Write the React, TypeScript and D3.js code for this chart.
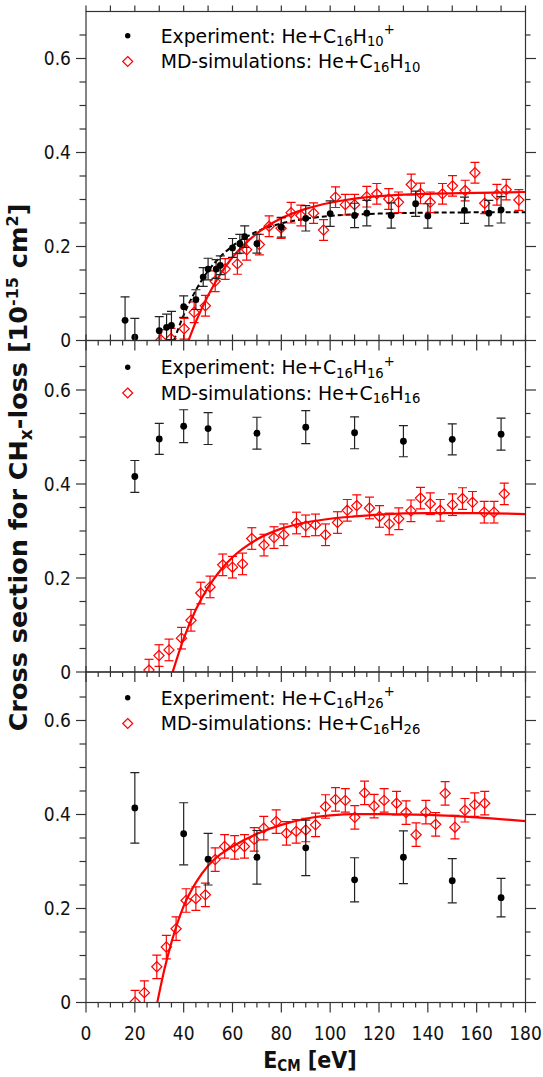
import React from 'react';
import * as d3 from 'd3';

// tick labels
const xTicks = [0, 20, 40, 60, 80, 100, 120, 140, 160, 180];
const yTicks = [0, 0.2, 0.4, 0.6];

// panel 1: He + C16H10
const exp1X = [16, 20, 30, 33, 35, 40, 45, 48, 50, 53.3, 55, 60, 63, 65, 70, 80, 90, 100, 110, 115, 125, 135, 140, 155, 165, 170];
const exp1Y = [0.043, 0.007, 0.021, 0.028, 0.032, 0.072, 0.087, 0.135, 0.152, 0.152, 0.16, 0.197, 0.206, 0.221, 0.206, 0.241, 0.26, 0.27, 0.266, 0.271, 0.266, 0.291, 0.265, 0.277, 0.271, 0.278];
const exp1Err = [0.05, 0.04, 0.03, 0.028, 0.03, 0.023, 0.021, 0.02, 0.023, 0.02, 0.02, 0.02, 0.02, 0.023, 0.02, 0.021, 0.027, 0.027, 0.026, 0.027, 0.027, 0.027, 0.026, 0.028, 0.027, 0.028];
const md1X = [30.7, 34.8, 40.2, 44.3, 48.9, 52.9, 57, 62, 65.8, 71, 75, 79.9, 84, 88, 93.2, 97.3, 102.2, 106.2, 110, 115, 119.1, 124, 128, 133.2, 137, 141, 146, 150.1, 155.3, 159.3, 163.3, 168.3, 172.1, 177.3];
const md1Y = [0.001, 0.004, 0.025, 0.06, 0.074, 0.126, 0.152, 0.163, 0.193, 0.204, 0.243, 0.239, 0.272, 0.266, 0.271, 0.235, 0.305, 0.289, 0.289, 0.306, 0.312, 0.301, 0.294, 0.332, 0.313, 0.294, 0.312, 0.329, 0.319, 0.357, 0.292, 0.31, 0.321, 0.299];
const md1Err = 0.022;
const fit1RedX = [42, 45, 50, 55, 60, 65, 70, 80, 90, 100, 110, 120, 140, 160, 180];
const fit1RedY = [0, 0.04, 0.096, 0.141, 0.177, 0.205, 0.228, 0.26, 0.28, 0.293, 0.302, 0.307, 0.312, 0.314, 0.316];
const fit1BlackX = [36, 40, 45, 50, 55, 60, 70, 80, 90, 100, 120, 140, 180];
const fit1BlackY = [0, 0.054, 0.107, 0.148, 0.178, 0.201, 0.232, 0.249, 0.259, 0.265, 0.27, 0.272, 0.273];

// panel 2: He + C16H16
const exp2X = [20, 30, 40, 50, 70, 90, 110, 130, 150, 170];
const exp2Y = [0.416, 0.496, 0.523, 0.518, 0.508, 0.521, 0.509, 0.491, 0.495, 0.506];
const exp2Err = [0.034, 0.033, 0.035, 0.034, 0.034, 0.035, 0.034, 0.033, 0.033, 0.034];
const md2X = [25.8, 29.9, 34, 39.1, 43, 47, 50.8, 56, 60, 64.1, 67.9, 72.9, 77, 81, 86.2, 90, 94, 98.1, 103, 107, 110.9, 116.1, 120.2, 124.2, 128.1, 133.1, 137, 141, 145.1, 150.1, 154.2, 158.3, 163.1, 167.1, 171.3];
const md2Y = [0.004, 0.035, 0.047, 0.072, 0.11, 0.168, 0.181, 0.228, 0.223, 0.23, 0.284, 0.27, 0.286, 0.292, 0.317, 0.311, 0.313, 0.292, 0.318, 0.344, 0.354, 0.349, 0.331, 0.315, 0.326, 0.343, 0.37, 0.358, 0.344, 0.356, 0.369, 0.361, 0.34, 0.34, 0.379];
const md2Err = 0.023;
const fit2RedX = [35.5, 40, 45, 50, 55, 60, 70, 80, 90, 100, 110, 120, 140, 160, 180];
const fit2RedY = [0, 0.071, 0.133, 0.18, 0.216, 0.244, 0.282, 0.305, 0.318, 0.326, 0.331, 0.335, 0.338, 0.338, 0.336];

// panel 3: He + C16H26
const exp3X = [20, 40, 50, 70, 90, 110, 130, 150, 170];
const exp3Y = [0.414, 0.359, 0.305, 0.309, 0.329, 0.261, 0.309, 0.259, 0.223];
const exp3Err = [0.075, 0.066, 0.055, 0.057, 0.059, 0.047, 0.056, 0.047, 0.041];
const md3X = [20.1, 23.9, 29, 32.9, 36.9, 41, 45, 48.9, 52.9, 56.8, 60.9, 64.9, 68.9, 72.8, 77.9, 82.1, 86.1, 90, 94, 98.1, 102.2, 106.2, 110.1, 114.1, 118, 122.1, 127.2, 131.1, 135.2, 139.2, 143.2, 147.1, 151.1, 155.2, 159.2, 163.3];
const md3Y = [0.001, 0.021, 0.076, 0.118, 0.157, 0.217, 0.221, 0.229, 0.304, 0.332, 0.33, 0.332, 0.347, 0.371, 0.385, 0.36, 0.364, 0.367, 0.378, 0.417, 0.432, 0.43, 0.394, 0.446, 0.418, 0.43, 0.424, 0.404, 0.357, 0.405, 0.379, 0.445, 0.373, 0.409, 0.421, 0.424];
const md3Err = 0.025;
const fit3RedX = [29.2, 32, 35, 40, 45, 50, 55, 60, 70, 80, 90, 100, 110, 120, 140, 160, 180];
const fit3RedY = [0, 0.068, 0.128, 0.205, 0.255, 0.291, 0.315, 0.332, 0.359, 0.378, 0.391, 0.398, 0.401, 0.401, 0.399, 0.394, 0.386];

const molecules = [['16', '10'], ['16', '16'], ['16', '26']];

const RED = '#ff0000';
const AXIS = '#333';
const FONT = 'DejaVu Sans, Verdana, sans-serif';
const FONT_C = 'DejaVu Sans Condensed, DejaVu Sans, sans-serif';

const left = 86;
const right = 525.5;
const zeros = [340.5, 672, 1002.5];
const tops = [11.5, 340.5, 672];

const x = d3.scaleLinear().domain([0, 180]).range([left, right]);

const zip = (xs: number[], ys: number[]) => xs.map((v, i) => [v, ys[i]] as [number, number]);

const panels = [
  { exp: zip(exp1X, exp1Y), expErr: exp1Err, md: zip(md1X, md1Y), mdErr: md1Err, fitRed: zip(fit1RedX, fit1RedY), fitBlack: zip(fit1BlackX, fit1BlackY) },
  { exp: zip(exp2X, exp2Y), expErr: exp2Err, md: zip(md2X, md2Y), mdErr: md2Err, fitRed: zip(fit2RedX, fit2RedY), fitBlack: null },
  { exp: zip(exp3X, exp3Y), expErr: exp3Err, md: zip(md3X, md3Y), mdErr: md3Err, fitRed: zip(fit3RedX, fit3RedY), fitBlack: null },
];

const diamond = (cx: number, cy: number, r: number) =>
  `M${cx},${cy - r}L${cx + r},${cy}L${cx},${cy + r}L${cx - r},${cy}Z`;

function Panel({ i }: { i: number }) {
  const p = panels[i];
  const zero = zeros[i];
  const top = tops[i];
  const y = d3.scaleLinear().domain([0, 0.7]).range([zero, zero - 329]);
  const line = d3.line<[number, number]>().x(d => x(d[0])).y(d => y(d[1])).curve(d3.curveMonotoneX);
  const cap = 4.5;
  const minorY = d3.range(0, 0.7, 0.05).filter(v => y(v) >= top - 0.5);
  const minorX = d3.range(0, 181, 5);
  const topTicks = d3.range(0, 181, 10);
  const [sub1, sub2] = molecules[i];
  const leg1 = y(0.633);
  const leg2 = leg1 + 25.5;
  return (
    <g>
      <defs>
        <clipPath id={`clip${i}`}>
          <rect x={left} y={top} width={right - left} height={zero - top} />
        </clipPath>
      </defs>
      {/* y ticks, left and right, pointing out */}
      {minorY.map(v => {
        const major = yTicks.some(t => Math.abs(t - v) < 1e-6);
        return (
          <g key={`yt${v}`} stroke={AXIS} strokeWidth={1.2}>
            <line x1={left - (major ? 10 : 6.5)} x2={left} y1={y(v)} y2={y(v)} />
            <line x1={right} x2={right + (major ? 10.5 : 5)} y1={y(v)} y2={y(v)} />
          </g>
        );
      })}
      {/* x ticks: bottom edge pointing down, top edge pointing up */}
      {minorX.map(v => {
        const major = v % 20 === 0;
        return <line key={`xb${v}`} x1={x(v)} x2={x(v)} y1={zero} y2={zero + (major ? 10 : 5)} stroke={AXIS} strokeWidth={1.2} />;
      })}
      {topTicks.map(v => (
        <line key={`xt${v}`} x1={x(v)} x2={x(v)} y1={top} y2={top - 6} stroke={AXIS} strokeWidth={1.2} />
      ))}
      {yTicks.map(v => (
        <text key={`yl${v}`} x={71} y={y(v)} dy="0.36em" textAnchor="end" fontFamily={FONT_C} fontSize={19} fill="#111">
          {v === 0 ? '0' : v.toFixed(1)}
        </text>
      ))}
      <g clipPath={`url(#clip${i})`}>
        {p.fitBlack && (
          <path d={line(p.fitBlack) || ''} fill="none" stroke="#000" strokeWidth={2} strokeDasharray="5,3" />
        )}
        <path d={line(p.fitRed) || ''} fill="none" stroke={RED} strokeWidth={2.2} />
        {p.md.map(([a, b], k) => (
          <g key={`md${k}`} stroke={RED} strokeWidth={1.2} fill="none">
            <line x1={x(a)} x2={x(a)} y1={y(b - p.mdErr)} y2={y(b + p.mdErr)} />
            <line x1={x(a) - cap} x2={x(a) + cap} y1={y(b - p.mdErr)} y2={y(b - p.mdErr)} />
            <line x1={x(a) - cap} x2={x(a) + cap} y1={y(b + p.mdErr)} y2={y(b + p.mdErr)} />
            <path d={diamond(x(a), y(b), 5.1)} />
          </g>
        ))}
        {p.exp.map(([a, b], k) => {
          const e = p.expErr[k];
          return (
            <g key={`ex${k}`} stroke="#222" strokeWidth={1.2}>
              <line x1={x(a)} x2={x(a)} y1={y(b - e)} y2={y(b + e)} />
              <line x1={x(a) - cap} x2={x(a) + cap} y1={y(b - e)} y2={y(b - e)} />
              <line x1={x(a) - cap} x2={x(a) + cap} y1={y(b + e)} y2={y(b + e)} />
              <circle cx={x(a)} cy={y(b)} r={3.4} fill="#000" stroke="none" />
            </g>
          );
        })}
      </g>
      {/* frame */}
      <rect x={left} y={top} width={right - left} height={zero - top} fill="none" stroke={AXIS} strokeWidth={1.2} />
      {/* legend */}
      <circle cx={127.7} cy={leg1 - 7.3} r={2.7} fill="#000" />
      <path d={diamond(127.7, leg2 - 7, 5)} fill="none" stroke={RED} strokeWidth={1.2} />
      <text x={160.7} y={leg1} fontFamily={FONT} fontSize={18.8} fill="#000">
        Experiment: He+C
        <tspan fontSize={13.2} dy={3.5}>{sub1}</tspan>
        <tspan dy={-3.5}>H</tspan>
        <tspan fontSize={13.2} dy={3.5}>{sub2}</tspan>
        <tspan fontSize={13.2} dy={-12}>+</tspan>
      </text>
      <text x={160.7} y={leg2} fontFamily={FONT} fontSize={18.8} fill="#000">
        MD-simulations: He+C
        <tspan fontSize={13.2} dy={3.5}>{sub1}</tspan>
        <tspan dy={-3.5}>H</tspan>
        <tspan fontSize={13.2} dy={3.5}>{sub2}</tspan>
      </text>
    </g>
  );
}

export default function App() {
  return (
    <svg width={543} height={1077} style={{ position: 'absolute', left: 0, top: 0, background: '#fff' }}>
      <rect width={543} height={1077} fill="#fff" />
      {[0, 1, 2].map(i => <Panel key={i} i={i} />)}
      {xTicks.map(v => (
        <text key={`xl${v}`} x={x(v)} y={1040} textAnchor="middle" fontFamily={FONT_C} fontSize={19} fill="#111">
          {v}
        </text>
      ))}
      <text x={310} y={1068} textAnchor="middle" fontFamily={FONT_C} fontWeight="bold" fontSize={23} fill="#111">
        E<tspan fontSize={15} dy={3}>CM</tspan>
        <tspan dy={-3}> [eV]</tspan>
      </text>
      <text transform="translate(26.7,467.5) rotate(-90)" textAnchor="middle" fontFamily={FONT} fontWeight="bold" fontSize={25.5} fill="#111">
        Cross section for CH<tspan fontSize={17} dy={5}>x</tspan>
        <tspan dy={-5}>-loss [10</tspan>
        <tspan fontSize={16} dy={-9}>-15</tspan>
        <tspan dy={9}> cm</tspan>
        <tspan fontSize={16} dy={-9}>2</tspan>
        <tspan dy={9}>]</tspan>
      </text>
    </svg>
  );
}
